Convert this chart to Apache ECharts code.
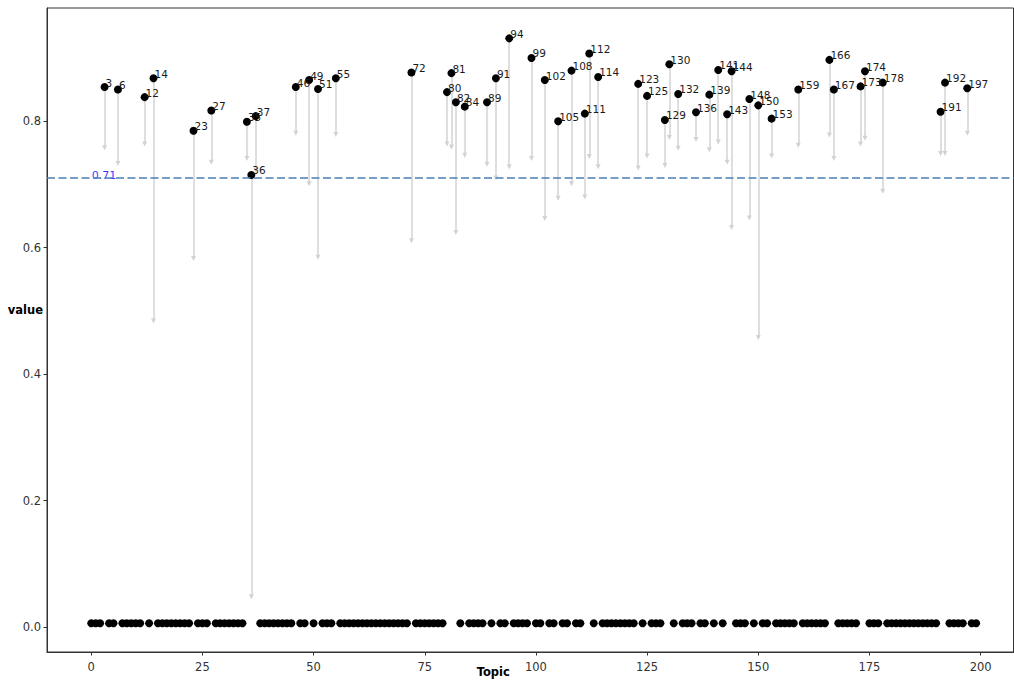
<!DOCTYPE html>
<html>
<head>
<meta charset="utf-8">
<script src="https://cdn.jsdelivr.net/npm/echarts@6/dist/echarts.min.js"></script>
<style>
html,body{margin:0;padding:0;background:#fff;}
#chart{width:1014px;height:680px;}
</style>
</head>
<body>
<div id="chart"></div>
<script>
// Highlighted topics, their value and where their arrow points to
var hiTopics = [3,6,12,14,23,27,35,36,37,46,49,51,55,72,80,81,82,84,89,91,94,99,102,105,108,111,112,114,123,125,129,130,132,136,139,141,143,144,148,150,153,159,166,167,173,174,178,191,192,197];
var hiValues = [0.854,0.850,0.838,0.868,0.785,0.817,0.799,0.715,0.808,0.854,0.865,0.851,0.868,0.877,0.846,0.876,0.830,0.823,0.830,0.868,0.931,0.900,0.865,0.800,0.880,0.812,0.907,0.870,0.859,0.840,0.802,0.890,0.843,0.814,0.842,0.881,0.811,0.879,0.835,0.825,0.804,0.850,0.897,0.850,0.855,0.879,0.861,0.815,0.861,0.852];
var arrowEnds = [0.758,0.733,0.764,0.484,0.583,0.735,0.741,0.048,0.722,0.781,0.701,0.585,0.779,0.611,0.764,0.759,0.624,0.746,0.732,0.710,0.728,0.741,0.646,0.678,0.701,0.680,0.744,0.728,0.726,0.745,0.730,0.774,0.757,0.771,0.755,0.767,0.735,0.632,0.647,0.458,0.745,0.762,0.778,0.741,0.764,0.773,0.689,0.749,0.749,0.781];
// Remaining topics, all near zero
var lowTopics = [0,1,2,4,5,7,8,9,10,11,13,15,16,17,18,19,20,21,22,24,25,26,28,29,30,31,32,33,34,38,39,40,41,42,43,44,45,47,48,50,52,53,54,56,57,58,59,60,61,62,63,64,65,66,67,68,69,70,71,73,74,75,76,77,78,79,83,85,86,87,88,90,92,93,95,96,97,98,100,101,103,104,106,107,109,110,113,115,116,117,118,119,120,121,122,124,126,127,128,131,133,134,135,137,138,140,142,145,146,147,149,151,152,154,155,156,157,158,160,161,162,163,164,165,168,169,170,171,172,175,176,177,179,180,181,182,183,184,185,186,187,188,189,190,193,194,195,196,198,199];
var lowValue = 0.006;
var threshold = 0.71;
var xTicks = [0,25,50,75,100,125,150,175,200];
var yTicks = [0,0.2,0.4,0.6,0.8];

var FONT = 'DejaVu Sans';
var lowData = lowTopics.map(function(t){ return [t, lowValue]; });
var hiData = hiTopics.map(function(t, i){ return [t, hiValues[i]]; });
var arrowData = hiTopics.map(function(t, i){ return {coords: [[t, hiValues[i]], [t, arrowEnds[i]]]}; });

var chart = echarts.init(document.getElementById('chart'), null, {renderer: 'svg'});
chart.setOption({
  animation: false,
  backgroundColor: '#fff',
  grid: {left: 47, right: 0.5, top: 8, bottom: 28, show: true, borderColor: '#333', borderWidth: 1, containLabel: false, outerBoundsMode: 'none'},
  xAxis: {
    type: 'value', min: -9.95, max: 207.4,
    name: 'Topic', nameLocation: 'middle', nameGap: 14, nameMoveOverlap: false,
    nameTextStyle: {fontFamily: FONT, fontSize: 11.5, fontWeight: 'bold', color: '#000', padding: [0, 74, 0, 0]},
    splitLine: {show: false},
    axisLine: {show: true, onZero: false, lineStyle: {color: '#333', width: 1}},
    axisTick: {show: true, length: 3.5, lineStyle: {color: '#333'}, customValues: xTicks},
    axisLabel: {show: true, margin: 9, fontFamily: FONT, fontSize: 11.5, color: '#333', customValues: xTicks,
      formatter: function(v){ return String(v); }}
  },
  yAxis: {
    type: 'value', min: -0.0395, max: 0.979,
    name: 'value', nameLocation: 'middle', nameRotate: 0, nameGap: 4, nameMoveOverlap: false,
    nameTextStyle: {fontFamily: FONT, fontSize: 11.5, fontWeight: 'bold', color: '#000', align: 'right', verticalAlign: 'bottom', padding: [0, 0, 14, 0]},
    splitLine: {show: false},
    axisLine: {show: true, onZero: false, lineStyle: {color: '#333', width: 1}},
    axisTick: {show: true, length: 3.5, lineStyle: {color: '#333'}, customValues: yTicks},
    axisLabel: {show: true, margin: 6, fontFamily: FONT, fontSize: 11.5, color: '#333', customValues: yTicks,
      formatter: function(v){ return v.toFixed(1); }}
  },
  series: [
    {
      type: 'lines', coordinateSystem: 'cartesian2d', z: 1,
      data: arrowData,
      symbol: ['none', 'triangle'], symbolSize: [6, 5],
      lineStyle: {color: '#d3d3d3', width: 1.5, opacity: 1},
      silent: true
    },
    {
      type: 'scatter', z: 2, data: [[0, threshold]], symbolSize: 0,
      label: {show: true, position: 'right', distance: 0.5, offset: [0, -3], formatter: String(threshold),
        fontFamily: FONT, fontSize: 11, color: '#0000ff'},
      markLine: {silent: true, symbol: 'none', label: {show: false},
        lineStyle: {color: '#4a7fb8', type: [8, 3.5], width: 1.5},
        data: [{yAxis: threshold}]}
    },
    {
      type: 'scatter', z: 3, data: lowData, symbolSize: 8,
      itemStyle: {color: '#000', opacity: 1}
    },
    {
      type: 'scatter', z: 4, data: hiData, symbolSize: 8,
      itemStyle: {color: '#000', opacity: 1},
      label: {show: true, position: 'right', distance: -3, offset: [0, -4.5],
        fontFamily: FONT, fontSize: 10.5, color: '#1a1a1a',
        formatter: function(p){ return String(p.value[0]); }}
    }
  ]
});
</script>
</body>
</html>
